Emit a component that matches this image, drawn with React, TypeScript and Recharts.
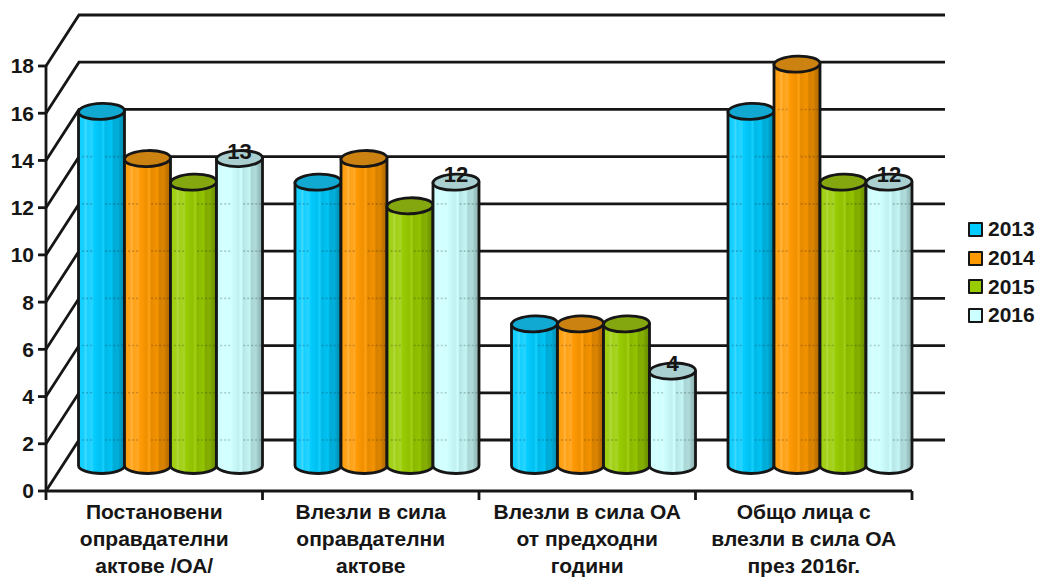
import React from 'react';
import { BarChart, Bar, XAxis, YAxis, CartesianGrid, Legend, LabelList } from 'recharts';

const categories = [
  ['Постановени', 'оправдателни', 'актове /ОА/'],
  ['Влезли в сила', 'оправдателни', 'актове'],
  ['Влезли в сила ОА', 'от предходни', 'години'],
  ['Общо лица с', 'влезли в сила ОА', 'през 2016г.'],
];
const years = ['2013', '2014', '2015', '2016'];
const values2013 = [15, 12, 6, 15];
const values2014 = [13, 13, 6, 17];
const values2015 = [12, 11, 6, 12];
const values2016 = [13, 12, 4, 12];
const seriesValues = [values2013, values2014, values2015, values2016];
const yTicks = [0, 2, 4, 6, 8, 10, 12, 14, 16, 18];

const colors = ['#00ccff', '#ff9900', '#99cc00', '#ccffff'];
const topColors = ['#11a8d2', '#cc8211', '#84a60e', '#a9cfd0'];
const ink = '#161616';

// depth of the fake 3D box
const DX = 33;
const DY = 51;
const RY = 8;
const LINE = 2.8;

const data = categories.map((lines, i) => {
  const row: any = { name: lines.join(' ') };
  years.forEach((y, s) => {
    row[y] = seriesValues[s][i];
  });
  return row;
});

const mix = (hex: string, other: string, t: number) => {
  const p = (c: string, k: number) => parseInt(c.slice(k, k + 2), 16);
  const ch = (k: number) => Math.round(p(hex, k) * (1 - t) + p(other, k) * t);
  return `rgb(${ch(1)},${ch(3)},${ch(5)})`;
};

// [offset, lighten(+) / darken(-)]
const stripes = [
  [0, 0.04], [0.12, 0.1], [0.16, 0.26], [0.2, 0.08], [0.3, 0.16], [0.33, 0.02], [0.48, -0.06],
  [0.54, 0.08], [0.58, -0.1], [0.72, -0.04], [0.76, -0.16], [0.86, -0.14], [0.9, -0.22], [1, -0.32],
];

const Gradients = () => (
  <defs>
    {colors.map((c, i) => (
      <linearGradient key={c} id={`cyl${i}`} x1="0" y1="0" x2="1" y2="0">
        {stripes.map(([o, f]) => (
          <stop key={o} offset={o} stopColor={f > 0 ? mix(c, '#ffffff', f) : mix(c, '#000000', -f)} />
        ))}
      </linearGradient>
    ))}
  </defs>
);

const Cylinder = (props: any) => {
  const { x, y, width, height, index, series } = props;
  const value = seriesValues[series][index];
  const unit = height / value;
  const left = x + DX / 2;
  const right = left + width;
  const top = y - DY / 2;
  const bottom = y + height - DY / 2;
  const cx = left + width / 2;
  const zero = y + height - DY;
  const marks = yTicks.map((t) => zero - t * unit).filter((v) => v > top + RY + 4 && v < bottom);
  return (
    <g>
      <path
        d={`M${left},${top} L${left},${bottom} A${width / 2},${RY} 0 0 0 ${right},${bottom} L${right},${top} Z`}
        fill={`url(#cyl${series})`}
        stroke={ink}
        strokeWidth={LINE}
        strokeLinejoin="round"
      />
      {marks.map((m) => (
        <g key={m} stroke="#000" strokeOpacity={0.2} strokeWidth={1.6} strokeDasharray="2 2">
          <line x1={left + width * 0.08} x2={left + width * 0.32} y1={m} y2={m} />
          <line x1={left + width * 0.58} x2={left + width * 0.96} y1={m} y2={m} />
        </g>
      ))}
      <ellipse
        cx={cx}
        cy={top}
        rx={width / 2}
        ry={RY}
        transform={`rotate(-2 ${cx} ${top})`}
        fill={topColors[series]}
        stroke={ink}
        strokeWidth={LINE}
      />
    </g>
  );
};

const BackWall = (props: any) => {
  const { x1, x2, y1 } = props;
  return (
    <path
      d={`M${x1},${y1} L${x1 + DX},${y1 - DY} L${x2 + DX},${y1 - DY}`}
      fill="none"
      stroke={ink}
      strokeWidth={LINE}
    />
  );
};

const CategoryTick = (props: any) => {
  const { x, y, index, width } = props;
  const band = width / categories.length;
  const left = x - band / 2;
  const axisY = y - 8;
  return (
    <g>
      <line x1={left} x2={left} y1={axisY} y2={axisY + 9} stroke={ink} strokeWidth={LINE} />
      {index === categories.length - 1 && (
        <line x1={left + band} x2={left + band} y1={axisY} y2={axisY + 9} stroke={ink} strokeWidth={LINE} />
      )}
      {categories[index].map((line, i) => (
        <text
          key={line}
          x={x}
          y={axisY + 27.5 + i * 27.2}
          textAnchor="middle"
          fontFamily="Liberation Sans"
          fontWeight="bold"
          fontSize={21}
          fill={ink}
        >
          {line}
        </text>
      ))}
    </g>
  );
};

const TopLabel = (props: any) => {
  const { x, y, width, value } = props;
  return (
    <text
      x={x + DX / 2 + width / 2}
      y={y - DY / 2}
      textAnchor="middle"
      fontFamily="Liberation Sans"
      fontWeight="bold"
      fontSize={22}
      fill={ink}
    >
      {value}
    </text>
  );
};

const LegendBox = () => (
  <div>
    {years.map((y, i) => (
      <div key={y} style={{ display: 'flex', alignItems: 'center', height: 28.7 }}>
        <span
          style={{
            width: 11,
            height: 11,
            border: `2.5px solid ${ink}`,
            background: colors[i],
            marginRight: 5,
            borderRadius: 1,
          }}
        />
        <span style={{ fontFamily: 'Liberation Sans', fontWeight: 'bold', fontSize: 21, color: ink }}>{y}</span>
      </div>
    ))}
  </div>
);

export default function App() {
  return (
    <div style={{ position: 'absolute', left: 0, top: 0, width: 1037, height: 577, background: '#fff' }}>
      <BarChart
        width={1037}
        height={577}
        data={data}
        margin={{ top: 66, right: 125, bottom: 0, left: 0 }}
        barSize={46}
        barGap={0}
      >
        <Gradients />
        <CartesianGrid vertical={false} horizontal={(p: any) => <BackWall key={p.index} {...p} />} />
        <XAxis
          dataKey="name"
          height={86}
          interval={0}
          axisLine={{ stroke: ink, strokeWidth: LINE }}
          tickLine={false}
          tick={(p: any) => <CategoryTick {...p} width={866} />}
        />
        <YAxis
          width={46}
          domain={[0, 18]}
          ticks={yTicks}
          interval={0}
          tickSize={8}
          tickMargin={4}
          axisLine={{ stroke: ink, strokeWidth: LINE }}
          tickLine={{ stroke: ink, strokeWidth: LINE }}
          tick={{ fill: ink, fontFamily: 'Liberation Sans', fontWeight: 'bold', fontSize: 21 }}
        />
        <Legend
          layout="vertical"
          align="center"
          verticalAlign="middle"
          content={() => <LegendBox />}
          wrapperStyle={{ left: 968, top: 215, width: 69 }}
        />
        {years.map((y, s) => (
          <Bar
            key={y}
            dataKey={y}
            fill={colors[s]}
            isAnimationActive={false}
            shape={(p: any) => <Cylinder {...p} series={s} />}
          >
            {s === 3 && <LabelList dataKey={y} content={(p: any) => <TopLabel {...p} />} />}
          </Bar>
        ))}
      </BarChart>
    </div>
  );
}
